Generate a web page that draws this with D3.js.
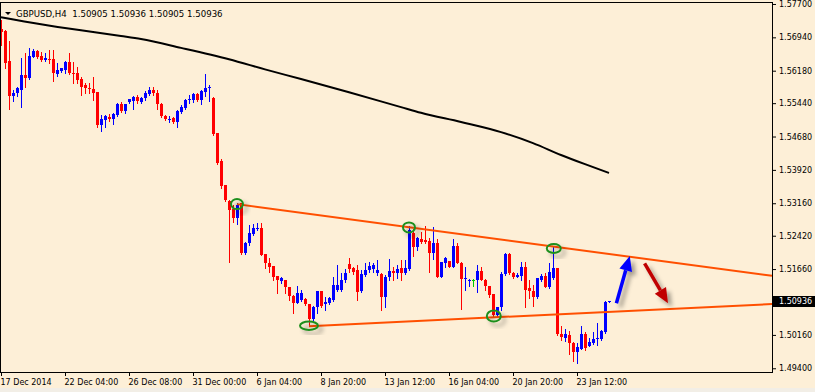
<!DOCTYPE html>
<html>
<head>
<meta charset="utf-8">
<script src="https://cdn.jsdelivr.net/npm/d3@7"></script>
<style>
  html, body { margin: 0; padding: 0; background: #fdefd7; }
  #chart { width: 815px; height: 392px; }
  svg { display: block; font-family: "DejaVu Sans", sans-serif; }
</style>
</head>
<body>
<div id="chart"></div>
<script>
////////////////////////////////////////////////////////////////////
////////////////////////////  Data  ////////////////////////////////
const symbol = "GBPUSD";
const timeframe = "H4";

// H4 candles, [open, high, low, close]
const candles = [
  [1.5712,1.5734,1.5677,1.5707],[1.5709,1.5711,1.5625,1.5636],[1.5639,1.5686,1.5531,1.5560],[1.5560,1.5574,1.5550,1.5568],
  [1.5567,1.5581,1.5560,1.5579],[1.5574,1.5648,1.5536,1.5608],[1.5608,1.5658,1.5581,1.5602],[1.5601,1.5669,1.5598,1.5651],
  [1.5650,1.5668,1.5649,1.5663],[1.5663,1.5665,1.5647,1.5650],[1.5651,1.5661,1.5640,1.5642],[1.5642,1.5658,1.5639,1.5648],
  [1.5645,1.5665,1.5636,1.5644],[1.5644,1.5665,1.5594,1.5612],[1.5610,1.5636,1.5606,1.5620],[1.5618,1.5625,1.5616,1.5623],
  [1.5620,1.5639,1.5612,1.5638],[1.5638,1.5658,1.5610,1.5612],[1.5613,1.5638,1.5591,1.5611],[1.5612,1.5627,1.5589,1.5597],
  [1.5598,1.5604,1.5563,1.5581],[1.5585,1.5589,1.5567,1.5578],[1.5579,1.5589,1.5567,1.5576],[1.5576,1.5603,1.5551,1.5568],
  [1.5569,1.5570,1.5490,1.5494],[1.5494,1.5517,1.5481,1.5508],[1.5506,1.5517,1.5489,1.5515],[1.5513,1.5519,1.5503,1.5507],
  [1.5508,1.5521,1.5496,1.5519],[1.5517,1.5544,1.5515,1.5542],[1.5542,1.5547,1.5524,1.5527],[1.5527,1.5543,1.5522,1.5542],
  [1.5547,1.5554,1.5544,1.5553],[1.5549,1.5560,1.5531,1.5557],[1.5557,1.5562,1.5544,1.5550],[1.5547,1.5557,1.5545,1.5555],
  [1.5555,1.5572,1.5551,1.5568],[1.5565,1.5581,1.5562,1.5574],[1.5574,1.5580,1.5562,1.5567],[1.5567,1.5574,1.5530,1.5541],
  [1.5542,1.5544,1.5513,1.5515],[1.5515,1.5518,1.5506,1.5507],[1.5508,1.5515,1.5502,1.5509],[1.5511,1.5513,1.5498,1.5502],
  [1.5502,1.5529,1.5490,1.5527],[1.5524,1.5540,1.5521,1.5535],[1.5532,1.5553,1.5531,1.5551],[1.5551,1.5563,1.5544,1.5554],
  [1.5551,1.5568,1.5547,1.5565],[1.5565,1.5567,1.5550,1.5551],[1.5551,1.5574,1.5542,1.5572],[1.5570,1.5610,1.5560,1.5579],
  [1.5578,1.5585,1.5549,1.5581],[1.5556,1.5558,1.5472,1.5474],[1.5475,1.5476,1.5405,1.5408],[1.5413,1.5416,1.5350,1.5355],
  [1.5357,1.5358,1.5322,1.5323],[1.5320,1.5323,1.5183,1.5301],[1.5304,1.5312,1.5274,1.5282],[1.5282,1.5317,1.5269,1.5312],
  [1.5316,1.5316,1.5200,1.5202],[1.5203,1.5228,1.5200,1.5225],[1.5225,1.5267,1.5221,1.5248],[1.5246,1.5269,1.5244,1.5259],
  [1.5258,1.5270,1.5254,1.5259],[1.5259,1.5270,1.5198,1.5199],[1.5200,1.5200,1.5168,1.5179],[1.5180,1.5191,1.5160,1.5171],
  [1.5173,1.5173,1.5141,1.5149],[1.5150,1.5150,1.5111,1.5141],[1.5139,1.5147,1.5134,1.5146],[1.5141,1.5141,1.5111,1.5125],
  [1.5125,1.5125,1.5096,1.5105],[1.5105,1.5107,1.5067,1.5088],[1.5089,1.5128,1.5088,1.5111],[1.5096,1.5118,1.5094,1.5112],
  [1.5097,1.5099,1.5084,1.5086],[1.5086,1.5086,1.5036,1.5053],[1.5053,1.5082,1.5050,1.5080],[1.5080,1.5117,1.5065,1.5117],
  [1.5117,1.5117,1.5079,1.5082],[1.5086,1.5103,1.5073,1.5092],[1.5089,1.5102,1.5086,1.5100],[1.5096,1.5149,1.5094,1.5130],
  [1.5118,1.5175,1.5115,1.5130],[1.5118,1.5156,1.5117,1.5141],[1.5140,1.5166,1.5137,1.5158],[1.5178,1.5191,1.5160,1.5166],
  [1.5168,1.5171,1.5155,1.5160],[1.5164,1.5175,1.5096,1.5114],[1.5117,1.5164,1.5114,1.5155],[1.5152,1.5179,1.5150,1.5164],
  [1.5164,1.5183,1.5160,1.5173],[1.5166,1.5179,1.5160,1.5175],[1.5156,1.5187,1.5152,1.5164],[1.5155,1.5156,1.5073,1.5103],
  [1.5103,1.5152,1.5080,1.5149],[1.5149,1.5188,1.5141,1.5162],[1.5162,1.5171,1.5141,1.5158],[1.5158,1.5175,1.5145,1.5166],
  [1.5168,1.5187,1.5141,1.5158],[1.5158,1.5187,1.5155,1.5168],[1.5166,1.5265,1.5164,1.5255],[1.5249,1.5257,1.5196,1.5216],
  [1.5216,1.5239,1.5210,1.5236],[1.5234,1.5251,1.5226,1.5228],[1.5232,1.5264,1.5225,1.5227],[1.5231,1.5236,1.5160,1.5202],
  [1.5202,1.5263,1.5188,1.5226],[1.5226,1.5234,1.5147,1.5149],[1.5149,1.5183,1.5147,1.5181],[1.5179,1.5194,1.5171,1.5191],
  [1.5185,1.5185,1.5170,1.5171],[1.5171,1.5234,1.5170,1.5219],[1.5219,1.5226,1.5179,1.5180],[1.5180,1.5182,1.5074,1.5144],
  [1.5144,1.5171,1.5118,1.5145],[1.5141,1.5144,1.5128,1.5142],[1.5141,1.5143,1.5128,1.5141],[1.5140,1.5175,1.5114,1.5162],
  [1.5162,1.5171,1.5140,1.5141],[1.5141,1.5144,1.5118,1.5127],[1.5127,1.5127,1.5102,1.5107],[1.5109,1.5109,1.5056,1.5061],
  [1.5061,1.5080,1.5057,1.5079],[1.5079,1.5160,1.5073,1.5155],[1.5155,1.5203,1.5152,1.5200],[1.5200,1.5202,1.5155,1.5156],
  [1.5156,1.5160,1.5145,1.5149],[1.5149,1.5156,1.5147,1.5152],[1.5150,1.5183,1.5141,1.5170],[1.5170,1.5183,1.5080,1.5118],
  [1.5122,1.5140,1.5100,1.5116],[1.5116,1.5130,1.5083,1.5103],[1.5103,1.5146,1.5100,1.5145],[1.5141,1.5155,1.5139,1.5151],
  [1.5151,1.5157,1.5125,1.5126],[1.5126,1.5179,1.5122,1.5160],[1.5145,1.5217,1.5143,1.5169],[1.5168,1.5169,1.5016,1.5019],
  [1.5019,1.5036,1.5004,1.5012],[1.5009,1.5029,1.5003,1.5018],[1.5016,1.5026,1.4973,1.4998],[1.4998,1.5000,1.4957,1.4977],
  [1.4976,1.4997,1.4951,1.4989],[1.4985,1.5036,1.4983,1.5017],[1.5017,1.5023,1.4982,1.4987],[1.4991,1.5008,1.4990,1.4999],
  [1.4997,1.5022,1.4995,1.5007],[1.5007,1.5043,1.4993,1.5010],[1.5007,1.5027,1.5004,1.5025],[1.5022,1.5093,1.5020,1.5090],
  [1.50905,1.50936,1.50905,1.50936]
];

// moving average, read at some bars
const maBars   = [0, 10, 20, 30, 35, 45, 57, 66, 75, 87, 100, 105, 115, 125, 133, 140, 146, 152];
const maValues = [1.5740, 1.5724, 1.5710, 1.5697, 1.5690, 1.5670, 1.5644, 1.5621, 1.5599, 1.5569,
                  1.5535, 1.5522, 1.5501, 1.5478, 1.5453, 1.5426, 1.5405, 1.5385];

// price scale labels
const priceTicks = [1.577, 1.5694, 1.5618, 1.5544, 1.5468, 1.5392, 1.5316, 1.5242, 1.5166, 1.5016, 1.494];

// time scale labels
const timeTickBars = [0, 16, 32, 48, 64, 80, 96, 112, 128, 144];
const timeTickLabels = ["17 Dec 2014", "22 Dec 04:00", "26 Dec 08:00", "31 Dec 00:00", "6 Jan 04:00",
                        "8 Jan 20:00", "13 Jan 12:00", "16 Jan 04:00", "20 Jan 20:00", "23 Jan 12:00"];

// trend lines (two anchors [bar, price], drawn as rays)
const upperLine = [[59, 1.5314], [138, 1.52175]];
const lowerLine = [[77, 1.5036], [123, 1.5056]];

// touch points
const touchBars   = [59, 102, 138.2, 77, 123.2];
const touchPrices = [1.5314, 1.5261, 1.5213, 1.5037, 1.5059];

// arrows [fromBar, fromPrice, toBar, toPrice]
const arrowUp   = [153.85, 1.5088, 157.2, 1.5196];
const arrowDown = [160.9, 1.5179, 166.75, 1.5088];

////////////////////////////////////////////////////////////////////
////////////////////////////  Init  ////////////////////////////////
const width = 815, height = 392;
const plotLeft = 0, plotRight = 772, plotTop = 2, plotBottom = 372;

const svg = d3.select("#chart").append("svg")
  .attr("width", width).attr("height", height);

const defs = svg.append("defs");
defs.append("filter").attr("id", "shadow")
  .attr("x", "-60%").attr("y", "-60%").attr("width", "220%").attr("height", "220%")
  .append("feDropShadow")
  .attr("dx", 4).attr("dy", 4).attr("stdDeviation", 2.2)
  .attr("flood-color", "#000").attr("flood-opacity", 0.35);

// scales: one bar = 4px
const x = d3.scaleLinear().domain([0, (plotRight - 1) / 4]).range([1, plotRight]);
const y = d3.scaleLinear().domain([1.49315, 1.57745]).range([plotBottom, plotTop]);

// background
svg.append("rect").attr("width", width).attr("height", height).attr("fill", "#fdefd7");
svg.append("rect").attr("y", 388).attr("width", width).attr("height", 4).attr("fill", "#f2eee6");

// moving average
const maLine = d3.line()
  .x((d, i) => x(maBars[i]))
  .y(d => y(d))
  .curve(d3.curveMonotoneX);

svg.append("path")
  .datum(maValues)
  .attr("d", maLine)
  .attr("fill", "none")
  .attr("stroke", "#000")
  .attr("stroke-width", 2);

// candles
const bull = "#0000ff", bear = "#ff0000", doji = "#00c800";
const candleG = svg.append("g").attr("shape-rendering", "crispEdges");

const bars = candleG.selectAll("g")
  .data(candles)
  .join("g")
  .attr("fill", d => d[3] > d[0] ? bull : d[3] < d[0] ? bear : doji);

bars.append("rect")
  .attr("x", (d, i) => Math.round(x(i)))
  .attr("y", d => Math.round(y(d[1])))
  .attr("width", 1)
  .attr("height", d => Math.max(1, Math.round(y(d[2])) - Math.round(y(d[1])) + 1));

bars.append("rect")
  .attr("x", (d, i) => Math.round(x(i)) - 1)
  .attr("y", d => Math.round(y(Math.max(d[0], d[3]))))
  .attr("width", 3)
  .attr("height", d => Math.max(1, Math.round(y(Math.min(d[0], d[3]))) - Math.round(y(Math.max(d[0], d[3])))));

// trend lines
function rayEnd(line) {
  const [[b1, p1], [b2, p2]] = line;
  const bEnd = x.domain()[1];
  return [bEnd, p1 + (bEnd - b1) * (p2 - p1) / (b2 - b1)];
}

[upperLine, lowerLine].forEach(line => {
  const end = rayEnd(line);
  svg.append("line")
    .attr("x1", x(line[0][0])).attr("y1", y(line[0][1]))
    .attr("x2", x(end[0])).attr("y2", y(end[1]))
    .attr("stroke", "#ff4f00")
    .attr("stroke-width", 2);
});

// touch circles
const ringSize = [[6, 5], [6, 5], [7, 4.5], [9, 4.2], [7, 5.5]];
svg.append("g")
  .selectAll("ellipse")
  .data(touchBars)
  .join("ellipse")
  .attr("cx", d => x(d))
  .attr("cy", (d, i) => y(touchPrices[i]))
  .attr("rx", (d, i) => ringSize[i][0])
  .attr("ry", (d, i) => ringSize[i][1])
  .attr("fill", "none")
  .attr("stroke", "#1e8f1e")
  .attr("stroke-width", 2)
  .attr("filter", "url(#shadow)");

// arrows
function drawArrow(a, color) {
  const x1 = x(a[0]), y1 = y(a[1]), x2 = x(a[2]), y2 = y(a[3]);
  const ang = Math.atan2(y2 - y1, x2 - x1);
  const headLen = 15, headHalf = 6.5;
  const bx = x2 - headLen * Math.cos(ang), by = y2 - headLen * Math.sin(ang);
  const px = -Math.sin(ang) * headHalf, py = Math.cos(ang) * headHalf;
  const g = svg.append("g").attr("filter", "url(#shadow)");
  g.append("line")
    .attr("x1", x1).attr("y1", y1).attr("x2", bx).attr("y2", by)
    .attr("stroke", color).attr("stroke-width", 3.5);
  g.append("path")
    .attr("d", `M${x2},${y2}L${bx + px},${by + py}L${bx - px},${by - py}Z`)
    .attr("fill", color);
}
drawArrow(arrowUp, "#0000ff");
drawArrow(arrowDown, "#c00000");

// frame
svg.append("rect")
  .attr("x", plotLeft + 0.5).attr("y", plotTop + 0.5)
  .attr("width", plotRight - plotLeft).attr("height", plotBottom - plotTop)
  .attr("fill", "none").attr("stroke", "#000");

// price axis
const yAxis = d3.axisRight(y)
  .tickValues(priceTicks)
  .tickFormat(d3.format(".5f"))
  .tickSize(4)
  .tickPadding(3);

svg.append("g")
  .attr("transform", `translate(${plotRight},0)`)
  .call(yAxis)
  .call(g => g.select(".domain").remove())
  .call(g => g.selectAll("line").attr("stroke", "#000"))
  .call(g => g.selectAll("text").attr("fill", "#000").style("font-size", "8px")
    .style("font-family", "DejaVu Sans"));

// time axis
const xAxis = d3.axisBottom(x)
  .tickValues(timeTickBars)
  .tickFormat((d, i) => timeTickLabels[i])
  .tickSize(4);

svg.append("g")
  .attr("transform", `translate(0,${plotBottom})`)
  .call(xAxis)
  .call(g => g.select(".domain").remove())
  .call(g => g.selectAll("line").attr("stroke", "#000"))
  .call(g => g.selectAll("text")
    .attr("text-anchor", "start").attr("x", -1).attr("y", 12.5).attr("dy", 0)
    .attr("fill", "#000").style("font-size", "8px").style("font-family", "DejaVu Sans"));

// current price label
const last = candles[candles.length - 1];
const yLast = Math.round(y(last[3]));
svg.append("rect")
  .attr("x", plotRight + 1).attr("y", yLast - 5)
  .attr("width", width - plotRight - 1).attr("height", 11)
  .attr("fill", "#000");
svg.append("text")
  .attr("x", plotRight + 7).attr("y", yLast + 3)
  .attr("fill", "#fff")
  .style("font-size", "8px")
  .text(d3.format(".5f")(last[3]));

// header
const f5 = d3.format(".5f");
svg.append("path").attr("d", "M5,12L11,12L8,15Z").attr("fill", "#000");
svg.append("text")
  .attr("x", 16).attr("y", 16.5)
  .attr("fill", "#000")
  .style("font-size", "8.6px")
  .style("white-space", "pre")
  .text(`${symbol},${timeframe}  ${f5(last[0])} ${f5(last[1])} ${f5(last[2])} ${f5(last[3])}`);
</script>
</body>
</html>
